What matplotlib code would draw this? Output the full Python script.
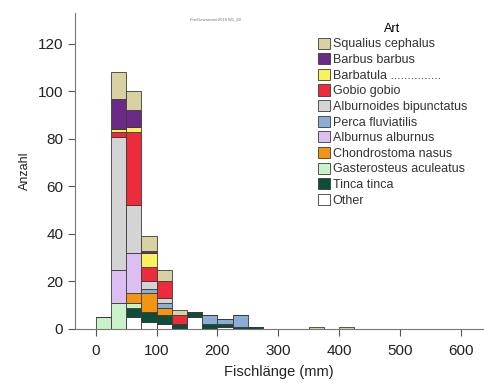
import matplotlib.pyplot as plt
import numpy as np

plt.rcParams['font.family'] = ['Liberation Sans', 'DejaVu Sans']

# 25 mm bins, left edges 0..425
bin_edges = np.arange(0, 450, 25)

species = ["Squalius cephalus", "Barbus barbus", "Barbatula ...............",
           "Gobio gobio", "Alburnoides bipunctatus", "Perca fluviatilis",
           "Alburnus alburnus", "Chondrostoma nasus", "Gasterosteus aculeatus",
           "Tinca tinca", "Other"]
colors = ["#d8d2a2", "#6b2a85", "#faf25c", "#ee2b3a", "#d4d4d4", "#8aaed6",
          "#dcbef2", "#f39512", "#caf2ca", "#0d4d3a", "#ffffff"]

#                 0  25  50  75 100 125 150 175 200 225 250 275 300 325 350 375 400 425
squalius      = [0, 11,  8,  6,  5,  2,  0,  0,  0,  0,  0,  0,  0,  0,  1,  0,  1,  0]
barbus        = [0, 13,  7,  1,  0,  0,  0,  0,  0,  0,  0,  0,  0,  0,  0,  0,  0,  0]
barbatula     = [0,  1,  2,  6,  0,  0,  0,  0,  0,  0,  0,  0,  0,  0,  0,  0,  0,  0]
gobio         = [0,  2, 31,  6,  7,  4,  0,  0,  0,  0,  0,  0,  0,  0,  0,  0,  0,  0]
alburnoides   = [0, 56, 20,  3,  2,  0,  0,  0,  0,  0,  0,  0,  0,  0,  0,  0,  0,  0]
perca         = [0,  0,  0,  2,  2,  0,  0,  4,  2,  5,  0,  0,  0,  0,  0,  0,  0,  0]
alburnus      = [0, 14, 17,  0,  0,  0,  0,  0,  0,  0,  0,  0,  0,  0,  0,  0,  0,  0]
chondrostoma  = [0,  0,  4,  8,  3,  0,  0,  0,  0,  0,  0,  0,  0,  0,  0,  0,  0,  0]
gasterosteus  = [5, 11,  2,  0,  0,  0,  0,  0,  0,  0,  0,  0,  0,  0,  0,  0,  0,  0]
tinca         = [0,  0,  4,  4,  4,  2,  2,  2,  1,  1,  1,  0,  0,  0,  0,  0,  0,  0]
other         = [0,  0,  5,  3,  2,  0,  5,  0,  1,  0,  0,  0,  0,  0,  0,  0,  0,  0]

counts = [squalius, barbus, barbatula, gobio, alburnoides, perca,
          alburnus, chondrostoma, gasterosteus, tinca, other]

fig = plt.figure(figsize=(4.85, 3.83), dpi=100)
ax = fig.add_axes([0.155, 0.141, 0.84, 0.825])

bottom = np.zeros(len(bin_edges))
handles = []
# stack from the last legend entry upward
for name, col, vals in reversed(list(zip(species, colors, counts))):
    vals = np.array(vals, dtype=float)
    b = ax.bar(bin_edges, vals, width=25, bottom=bottom, align='edge',
               color=col, edgecolor='#3a3a3a', linewidth=0.6, label=name)
    handles.append(b)
    bottom += vals

ax.set_xlim(-34, 636)
ax.set_ylim(0, 133)
ax.set_xticks(np.arange(0, 601, 100))
ax.set_yticks(np.arange(0, 121, 20))
ax.tick_params(labelsize=11, length=5, color='#555555', labelcolor='#222222')
ax.tick_params(axis='x', pad=6)
for s in ['top', 'right']:
    ax.spines[s].set_visible(False)
for s in ['left', 'bottom']:
    ax.spines[s].set_color('#777777')
    ax.spines[s].set_linewidth(0.8)

ax.set_xlabel("Fischlänge (mm)", fontsize=10.5, labelpad=5, color='#222222')
ax.set_ylabel("Anzahl", fontsize=9, labelpad=5, color='#222222')

leg = ax.legend(handles[::-1], species, loc='upper left',
                bbox_to_anchor=(0.583, 0.985), frameon=False, title="Art",
                fontsize=9, title_fontsize=9, handlelength=1.0,
                handleheight=1.0, handletextpad=0.2, labelspacing=0.22,
                borderaxespad=0)
for t in leg.get_texts():
    t.set_color('#333333')

fig.text(0.445, 0.948, "FreiGewaesser2018 W1_80", fontsize=3, color='#777777',
         ha='center')

fig.savefig("out.png", dpi=100)
